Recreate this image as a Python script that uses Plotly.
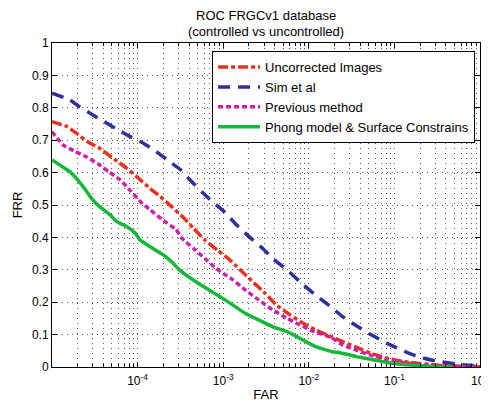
import plotly.graph_objects as go

far_uncorrected = [1e-5, 1.5e-5, 1.94e-5, 2.6e-5, 3.6e-5, 5.5e-5, 7.5e-5, 1.03e-4, 1.4e-4,
                   1.84e-4, 2.5e-4, 3.4e-4, 4.5e-4, 6.1e-4, 8.6e-4, 1.14e-3, 1.44e-3, 2.1e-3,
                   3.1e-3, 4.2e-3, 6.1e-3, 8.6e-3, 1.2e-2, 1.7e-2, 2.5e-2, 3.8e-2, 5.3e-2,
                   8.2e-2, 1.35e-1, 2.3e-1, 4e-1, 1.0]
frr_uncorrected = [0.757, 0.742, 0.721, 0.695, 0.675, 0.639, 0.613, 0.582, 0.551,
                   0.526, 0.495, 0.462, 0.428, 0.392, 0.36, 0.335, 0.31, 0.269,
                   0.227, 0.191, 0.16, 0.135, 0.114, 0.097, 0.078, 0.058, 0.042,
                   0.027, 0.016, 0.009, 0.004, 0.001]

far_sim = [1e-5, 1.62e-5, 2.1e-5, 3e-5, 4.1e-5, 6e-5, 8.2e-5, 1.18e-4, 1.65e-4, 2.3e-4,
           3.2e-4, 4.1e-4, 5.6e-4, 7.5e-4, 1.03e-3, 1.44e-3, 2.05e-3, 2.9e-3, 3.8e-3, 5.6e-3,
           7.9e-3, 1.08e-2, 1.8e-2, 2.5e-2, 3.75e-2, 5.4e-2, 8.2e-2, 1.35e-1, 2e-1, 3e-1,
           5.3e-1, 1.0]
frr_sim = [0.845, 0.824, 0.803, 0.778, 0.757, 0.731, 0.711, 0.69, 0.665, 0.636,
           0.608, 0.577, 0.541, 0.51, 0.479, 0.438, 0.40, 0.366, 0.335, 0.299,
           0.263, 0.232, 0.186, 0.155, 0.124, 0.099, 0.073, 0.047, 0.03, 0.019,
           0.009, 0.002]

far_previous = [1e-5, 1.35e-5, 1.87e-5, 2.5e-5, 3.4e-5, 4.6e-5, 6.3e-5, 8.2e-5, 1.1e-4,
                1.4e-4, 2e-4, 2.8e-4, 3.3e-4, 4.5e-4, 6.1e-4, 8.2e-4, 1e-3, 1.3e-3, 1.8e-3,
                2.6e-3, 3.8e-3, 5.6e-3, 7.9e-3, 1.15e-2, 1.8e-2, 2.5e-2, 3.6e-2, 5.2e-2,
                8.6e-2, 1.35e-1, 2.3e-1, 4.5e-1, 1.0]
frr_previous = [0.726, 0.685, 0.665, 0.649, 0.628, 0.603, 0.577, 0.545, 0.508,
                0.485, 0.452, 0.425, 0.397, 0.366, 0.335, 0.305, 0.289, 0.269, 0.238,
                0.207, 0.176, 0.15, 0.13, 0.109, 0.092, 0.068, 0.052, 0.037,
                0.022, 0.013, 0.006, 0.002, 0.001]

far_phong = [1e-5, 1.24e-5, 1.62e-5, 2e-5, 2.4e-5, 2.9e-5, 3.6e-5, 4.8e-5, 5.7e-5, 7.5e-5,
             9.4e-5, 1.07e-4, 1.4e-4, 2e-4, 2.6e-4, 3.1e-4, 5e-4, 9.2e-4, 1.3e-3, 1.8e-3,
             2.6e-3, 3.8e-3, 5.6e-3, 8.6e-3, 1.2e-2, 1.9e-2, 2.3e-2, 3.6e-2, 5.7e-2, 8.6e-2,
             1.35e-1, 2.3e-1, 4.7e-1]
frr_phong = [0.639, 0.623, 0.603, 0.577, 0.551, 0.52, 0.495, 0.469, 0.449, 0.433,
             0.413, 0.392, 0.371, 0.346, 0.32, 0.299, 0.26, 0.217, 0.191, 0.166,
             0.145, 0.124, 0.109, 0.083, 0.063, 0.047, 0.044, 0.032, 0.022, 0.013,
             0.007, 0.003, 0.0]

names = ["Uncorrected Images", "Sim et al", "Previous method", "Phong model & Surface Constrains"]
colors = ["#e8311e", "#30309a", "#cc20ac", "#14b838"]
dashes = ["10px,3px,4px,3px", "12px,8px", "5px,3px", "solid"]

title_lines = ["ROC FRGCv1 database", "(controlled vs uncontrolled)"]
major_ticks = [1e-4, 1e-3, 1e-2, 1e-1, 1]
major_labels = ["10<sup>-4</sup>", "10<sup>-3</sup>", "10<sup>-2</sup>", "10<sup>-1</sup>", "10<sup>0</sup>"]
minor_ticks = [m * 10.0 ** e for e in range(-5, 0) for m in range(2, 10)]

fig = go.Figure()
series = [(far_uncorrected, frr_uncorrected), (far_sim, frr_sim),
          (far_previous, frr_previous), (far_phong, frr_phong)]
for (xs, ys), n, c, d in zip(series, names, colors, dashes):
    fig.add_trace(go.Scatter(x=xs, y=ys, mode="lines", name=n,
                             line=dict(color=c, width=3.5, dash=d, shape="spline", smoothing=0.3)))
# carrier trace for the minor-grid axis
fig.add_trace(go.Scatter(x=[1e-5], y=[0], mode="none", xaxis="x2", showlegend=False, hoverinfo="skip"))

font = "Liberation Sans, Arial, Helvetica, sans-serif"
grid = "#555"
gdash = "1px,4px"
# page body has an 8px margin, so the figure is shrunk and margins offset by 8px
fig.update_layout(
    width=481, height=394,
    margin=dict(l=44, r=9, t=35, b=35, autoexpand=False),
    paper_bgcolor="white", plot_bgcolor="white",
    font=dict(family=font, size=11, color="black"),
    showlegend=True,
    legend=dict(x=0.374, y=0.975, xanchor="left", yanchor="top", itemwidth=42,
                bgcolor="white", bordercolor="black", borderwidth=1,
                font=dict(size=13, family=font), tracegroupgap=0),
    annotations=[
        dict(text=title_lines[0], xref="paper", yref="paper", x=0.5, y=1.085,
             xanchor="center", yanchor="middle", showarrow=False, font=dict(size=13, family=font)),
        dict(text=title_lines[1], xref="paper", yref="paper", x=0.5, y=1.034,
             xanchor="center", yanchor="middle", showarrow=False, font=dict(size=13, family=font)),
    ],
    xaxis=dict(
        type="log", range=[-5, 0], tickvals=major_ticks, ticktext=major_labels,
        ticks="inside", ticklen=5, tickcolor="black", automargin=False,
        ticklabeloverflow="allow", ticklabelstandoff=3,
        showline=True, linecolor="black", linewidth=1, mirror="ticks",
        showgrid=True, gridcolor=grid, griddash=gdash, gridwidth=1, zeroline=False,
        tickfont=dict(size=12),
        title=dict(text="FAR", standoff=12, font=dict(size=13)),
    ),
    xaxis2=dict(
        type="log", range=[-5, 0], overlaying="x", side="bottom", tickvals=minor_ticks,
        showticklabels=False, ticks="inside", ticklen=3, tickcolor="black", mirror="ticks",
        showline=False, showgrid=True, gridcolor=grid, griddash=gdash, gridwidth=1,
        zeroline=False, automargin=False,
    ),
    yaxis=dict(
        range=[0, 1], tickvals=[0, 0.1, 0.2, 0.3, 0.4, 0.5, 0.6, 0.7, 0.8, 0.9, 1],
        ticktext=["0", "0.1", "0.2", "0.3", "0.4", "0.5", "0.6", "0.7", "0.8", "0.9", "1"],
        ticks="inside", ticklen=5, tickcolor="black", automargin=False,
        showline=True, linecolor="black", linewidth=1, mirror="ticks",
        showgrid=True, gridcolor=grid, griddash=gdash, gridwidth=1, zeroline=False,
        tickfont=dict(size=12),
        title=dict(text="FRR", standoff=6, font=dict(size=13)),
    ),
)
fig.write_html("out.html")
